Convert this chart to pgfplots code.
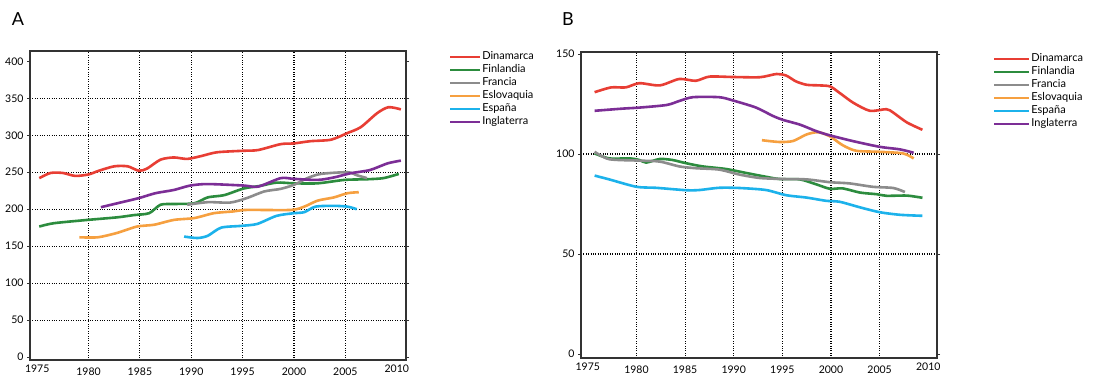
\documentclass[border=0pt]{standalone}
\usepackage{pgfplots}
\pgfplotsset{compat=1.18}
\usepackage{fontspec}
\setmainfont{Lato}
\definecolor{cred}{RGB}{232,62,52}
\definecolor{cgreen}{RGB}{44,140,62}
\definecolor{cgray}{RGB}{140,140,140}
\definecolor{corange}{RGB}{246,160,64}
\definecolor{cblue}{RGB}{28,178,235}
\definecolor{cpurple}{RGB}{124,46,150}
\pgfplotsset{
  myaxis/.style={
    scale only axis, xmin=1974.3, xmax=2010.9,
    axis line style={draw=black!80, line width=1.4pt},
    grid style={black, dotted, line width=1.1pt},
    xmajorgrids, ymajorgrids,
    xtick={1980,1985,...,2005}, extra x ticks={1975,2010},
    extra x tick style={grid=none, major tick length=0pt},
    extra y tick style={grid=none},
    /pgf/number format/assume math mode=true,
    x tick label style={/pgf/number format/1000 sep={}, font=\fontsize{10.5}{12}\selectfont, yshift=-1pt},
    y tick label style={font=\fontsize{10.5}{12}\selectfont},
    tick align=outside,
    xtick style={draw=none},
    ytick style={draw=black!80, line width=0.9pt},
    major tick length=3pt,
    every axis plot/.append style={line width=2.6pt, smooth, tension=0.45, mark=none},
    legend style={draw=none, fill=none, anchor=north west, font=\fontsize{11}{13}\selectfont,
      row sep=0pt, nodes={inner sep=1pt, text height=8pt, text depth=3pt}},
    legend cell align=left,
  }
}
\begin{document}
\begin{tikzpicture}
\fill[white] (0pt,0pt) rectangle (1095pt,378pt);
\path[use as bounding box] (0pt,0pt) rectangle (1095pt,378pt);
\node[font=\fontsize{18}{20}\selectfont] at (18pt,358.5pt) {A};
\node[font=\fontsize{18}{20}\selectfont] at (568pt,358.5pt) {B};
\begin{axis}[myaxis, at={(30pt,18pt)}, anchor=south west, width=376pt, height=309pt,
  ymin=-4, ymax=414, ytick={50,100,...,350}, extra y ticks={0,400},
  legend style={at={(1.106,1.01)}},
  legend image code/.code={\draw[#1, line width=2.2pt] (0pt,0pt) -- (30pt,0pt);}]
\addplot[cred] coordinates {(1975.2,242)(1976.3,249)(1977.5,249)(1978.7,245)(1980,247)(1981,252)(1982.5,258)(1983.8,258)(1984.9,252)(1985.7,255)(1987,267)(1988.3,270)(1989.6,268)(1991,272)(1992.5,277)(1995,279)(1996.5,280)(1998.7,288)(2000,289)(2001.6,292)(2003.6,294)(2005.2,303)(2006.5,311)(2008.1,330)(2009.2,338)(2010.4,335)};
\addlegendentry{Dinamarca}
\addplot[cgreen] coordinates {(1975.2,176.5)(1976.6,181)(1979.9,185.5)(1982.8,189)(1984.4,192)(1985.9,194.6)(1987,206)(1988.3,207)(1990.3,208)(1991.6,216)(1993.2,219)(1995.1,228)(1996.7,231.5)(1998.3,236)(2000,235)(2002.3,235)(2004.9,239.6)(2007.1,240.5)(2008.7,242)(2010.2,247.7)};
\addlegendentry{Finlandia}
\addplot[cgray] coordinates {(1989.6,206)(1991.6,209.5)(1993.8,209)(1995.4,215)(1997.1,224)(1998.7,227.5)(2000,233)(2001.3,242)(2002.6,247.7)(2005.2,250)(2006.1,246)(2007.1,242)};
\addlegendentry{Francia}
\addplot[corange] coordinates {(1979.1,162)(1980.9,162)(1982.8,168)(1984.7,176.5)(1986.4,179)(1988.3,185.5)(1990.3,188)(1992.2,194.6)(1994.1,197)(1995.4,199)(1999.7,199)(2001,203.5)(2002.3,211.6)(2003.9,216)(2005.2,221.6)(2006.3,223)};
\addlegendentry{Eslovaquia}
\addplot[cblue] coordinates {(1989.3,163)(1990.6,161)(1991.6,164)(1992.9,175)(1994.8,177.4)(1996.4,180)(1998.3,191)(2000,194.6)(2001,196)(2002.1,203.5)(2003.9,204.5)(2005.2,203.5)(2006.1,200)};
\addlegendentry{España}
\addplot[cpurple] coordinates {(1981.2,202.7)(1983.1,209)(1984.9,215)(1986.5,221.6)(1988.3,226)(1989.9,232)(1991.6,234)(1995.1,232)(1996.5,230.5)(1998.7,242)(2000,241)(2002.3,239.6)(2003.9,243)(2005.5,248.6)(2007.4,253)(2009.1,262)(2010.4,265.7)};
\addlegendentry{Inglaterra}
\end{axis}
\begin{axis}[myaxis, at={(581pt,20pt)}, anchor=south west, width=356pt, height=306pt,
  ymin=-2, ymax=151, ytick={50,100}, extra y ticks={0,150},
  legend style={at={(1.149,1.006)}},
  legend image code/.code={\draw[#1, line width=2.2pt] (0pt,0pt) -- (35pt,0pt);}]
\addplot[cred] coordinates {(1975.7,130.9)(1977.4,133.3)(1978.9,133.3)(1980.3,135.4)(1982.4,134.3)(1984.4,137.5)(1986.1,136.6)(1987.5,138.7)(1989.9,138.5)(1992.7,138.4)(1994.4,140)(1995.4,139.2)(1996.4,136.3)(1997.5,134.6)(1998.8,134.3)(1999.9,133.8)(2000.9,130.5)(2002.3,125.6)(2004,121.6)(2005.7,122.4)(2006.4,120.7)(2007.8,115.8)(2009.4,112.1)};
\addlegendentry{Dinamarca}
\addplot[cgreen] coordinates {(1975.7,100.3)(1977.2,97.8)(1979.3,97.8)(1980.3,97)(1981,95.7)(1982.4,97.5)(1983.7,97)(1985.1,95.4)(1986.8,93.8)(1989.2,92.5)(1991.3,90.5)(1993,88.9)(1994.7,87.5)(1996.8,87.3)(1998.5,84.8)(1999.9,82.6)(2001.2,82.8)(2003,80.7)(2004.7,79.9)(2005.7,79.1)(2007.8,79.2)(2009.4,78.1)};
\addlegendentry{Finlandia}
\addplot[cgray] coordinates {(1975.7,101.1)(1977.2,97.4)(1980.3,96.7)(1982.4,96.2)(1984.4,93.8)(1986.1,92.9)(1988.5,92.2)(1990.6,89.7)(1992.7,88)(1995.1,87.5)(1997.5,87.3)(1999.9,85.9)(2001.9,85.3)(2004.3,83.6)(2006.4,83)(2007.6,81)};
\addlegendentry{Francia}
\addplot[corange] coordinates {(1992.9,106.9)(1994.7,106)(1996.1,106.5)(1997.5,109.8)(1998.7,110.9)(1999.9,108.8)(2001.2,104.4)(2002.6,101.6)(2005,101.1)(2007.4,100.3)(2008.5,97.8)};
\addlegendentry{Eslovaquia}
\addplot[cblue] coordinates {(1975.7,89.2)(1977.2,87.3)(1980,83.6)(1982,83.1)(1985.1,81.9)(1986.5,82)(1988.5,83.1)(1990.6,83)(1993.3,82)(1995.4,79.4)(1997.5,78.2)(1999.5,76.6)(2000.9,76.1)(2003,73.3)(2005,70.9)(2007.1,69.6)(2009.4,69.1)};
\addlegendentry{España}
\addplot[cpurple] coordinates {(1975.7,121.6)(1978.6,122.7)(1980.3,123.2)(1983.1,124.5)(1984.4,126.5)(1985.8,128.4)(1988.5,128.4)(1989.9,126.8)(1992.3,123.2)(1994,119.1)(1995.1,117)(1996.8,114.7)(1998.5,111.4)(1999.9,109.3)(2002.3,106.4)(2005,103.6)(2007.1,102.3)(2008.5,100.6)};
\addlegendentry{Inglaterra}
\end{axis}
\end{tikzpicture}
\end{document}
